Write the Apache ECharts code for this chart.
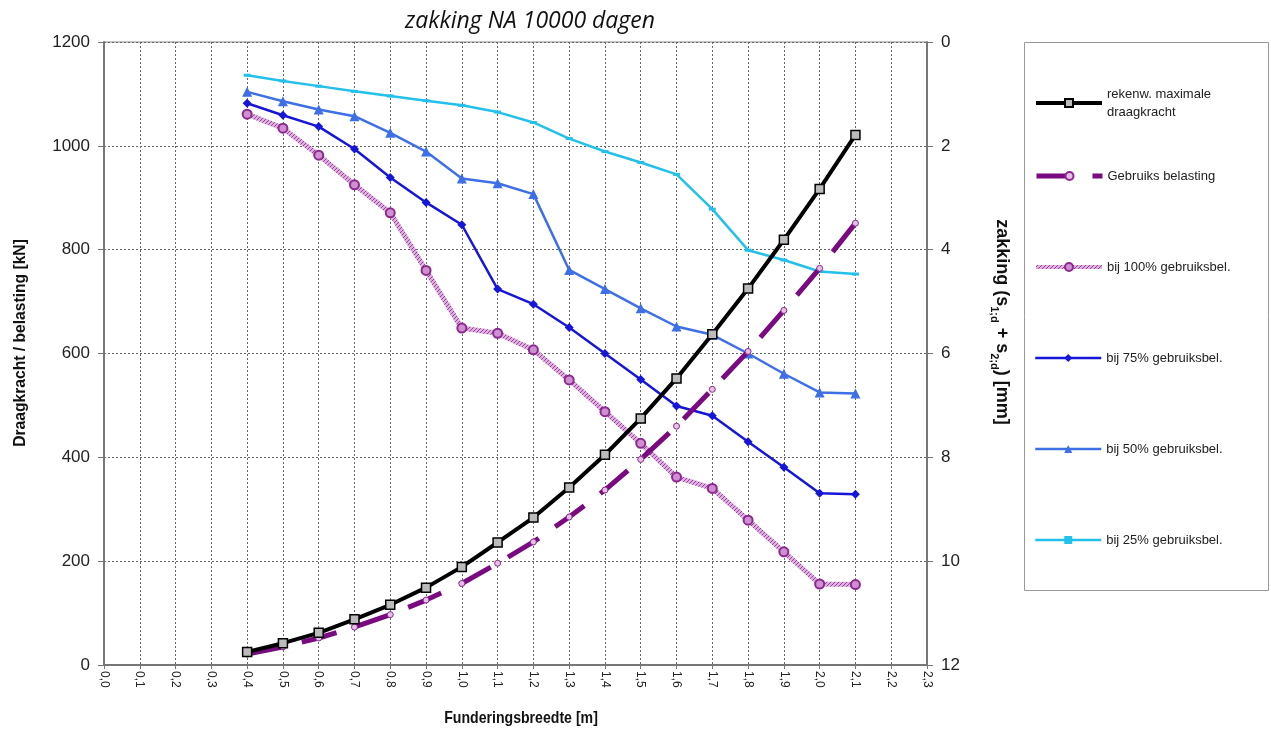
<!DOCTYPE html>
<html>
<head>
<meta charset="utf-8">
<script src="https://cdn.jsdelivr.net/npm/echarts@6/dist/echarts.min.js"></script>
<style>
  html, body { margin: 0; padding: 0; background: #fff; }
  #chart { width: 1271px; height: 731px; }
</style>
</head>
<body>
<div id="chart"></div>
<script>
// Funderingsbreedte [m]
const widths = [0.4, 0.5, 0.6, 0.7, 0.8, 0.9, 1.0, 1.1, 1.2, 1.3, 1.4, 1.5, 1.6, 1.7, 1.8, 1.9, 2.0, 2.1];
// Draagkracht / belasting [kN]
const draagkracht = [25, 42, 62, 88, 116, 149, 189, 236, 284, 342, 405, 475, 552, 637, 725, 819, 917, 1021];
const belasting = [21, 35, 52, 73, 97, 125, 157, 196, 237, 285, 337, 396, 460, 531, 604, 683, 764, 851];
// Zakking [mm]
const zak100 = [1.39, 1.66, 2.18, 2.75, 3.29, 4.40, 5.51, 5.61, 5.93, 6.51, 7.12, 7.73, 8.38, 8.60, 9.21, 9.82, 10.44, 10.45];
const zak75 = [1.18, 1.41, 1.63, 2.06, 2.61, 3.09, 3.52, 4.76, 5.05, 5.50, 6.00, 6.50, 7.01, 7.20, 7.70, 8.19, 8.69, 8.71];
const zak50 = [0.96, 1.14, 1.30, 1.43, 1.75, 2.11, 2.63, 2.72, 2.93, 4.39, 4.76, 5.13, 5.48, 5.64, 6.00, 6.39, 6.75, 6.77];
const zak25 = [0.64, 0.75, 0.85, 0.95, 1.04, 1.13, 1.22, 1.35, 1.55, 1.86, 2.11, 2.32, 2.55, 3.22, 4.01, 4.20, 4.42, 4.47];

const seriesNames = [
  'rekenw. maximale\ndraagkracht',
  'Gebruiks belasting',
  'bij 100% gebruiksbel.',
  'bij 75% gebruiksbel.',
  'bij 50% gebruiksbel.',
  'bij 25% gebruiksbel.'
];

const pairs = arr => widths.map((w, i) => [w, arr[i]]);

// hatched pink stroke for the 100% curve
function hatchPattern() {
  const c = document.createElement('canvas');
  c.width = 4; c.height = 4;
  const g = c.getContext('2d');
  g.fillStyle = '#deaede';
  g.fillRect(0, 0, 4, 4);
  g.fillStyle = '#94449a';
  g.fillRect(0, 0, 1, 1);
  g.fillRect(2, 2, 1, 1);
  g.fillRect(1, 3, 1, 1);
  g.fillRect(3, 1, 1, 1);
  return { image: c, repeat: 'repeat' };
}

const FONT = '"Liberation Sans", Arial, sans-serif';
const GRID_LINE = { show: true, lineStyle: { color: '#666', width: 1, type: [2, 2] } };

// legend rows, one per series, stacked in the framed box
const legendTops = [76, 167, 258, 349, 440, 531];
const legendLineWidths = [4, 5, 4, 2.5, 2.5, 2.5];
const legends = seriesNames.map((n, i) => ({
  data: [n],
  left: 1034,
  top: legendTops[i],
  orient: 'vertical',
  itemWidth: 66,
  itemHeight: 10,
  itemGap: 0,
  padding: 0,
  selectedMode: false,
  lineStyle: { width: legendLineWidths[i] },
  textStyle: {
    fontFamily: FONT,
    fontSize: 13,
    color: '#222',
    lineHeight: 18,
    padding: i === 0 ? [18, 0, 0, 0] : 0
  }
}));

const AXIS_NAME = { fontFamily: FONT, fontWeight: 'bold', fill: '#111' };

const chart = echarts.init(document.getElementById('chart'));
chart.setOption({
  animation: false,
  backgroundColor: '#fff',
  title: {
    text: 'zakking NA 10000 dagen',
    left: 400,
    top: 5,
    textStyle: { fontFamily: '"Open Sans", sans-serif', fontStyle: 'italic', fontWeight: 'normal', fontSize: 23, color: '#111' }
  },
  legend: legends,
  grid: { left: 104, right: 344, top: 42, bottom: 66, show: true, borderColor: '#888', borderWidth: 1 },
  graphic: [
    { type: 'rect', shape: { x: 1024.5, y: 42.5, width: 244, height: 548 }, style: { fill: 'none', stroke: '#999', lineWidth: 1 }, z: 0 },
    {
      type: 'text', x: 521, y: 718, scaleX: 0.83,
      style: Object.assign({ text: 'Funderingsbreedte [m]', fontSize: 17, align: 'center', verticalAlign: 'middle' }, AXIS_NAME)
    },
    {
      type: 'text', x: 20, y: 343, rotation: Math.PI / 2, scaleX: 0.92,
      style: Object.assign({ text: 'Draagkracht / belasting [kN]', fontSize: 17, align: 'center', verticalAlign: 'middle' }, AXIS_NAME)
    },
    {
      type: 'text', x: 1004, y: 322, rotation: -Math.PI / 2, scaleX: 1.0,
      style: {
        text: '{t|zakking (s}{s|1;d}{t| + s}{s|2;d}{t|) [mm]}',
        align: 'center', verticalAlign: 'middle',
        rich: {
          t: { fontFamily: FONT, fontWeight: 'bold', fontSize: 18, fill: '#111', lineHeight: 22, verticalAlign: 'bottom' },
          s: { fontFamily: FONT, fontWeight: 'bold', fontSize: 11, fill: '#111', lineHeight: 22, verticalAlign: 'bottom', padding: [0, 0, -4, 0] }
        }
      }
    }
  ],
  xAxis: {
    type: 'value', min: 0, max: 2.3, interval: 0.1,
    axisLine: { show: true, lineStyle: { color: '#777', width: 2 } },
    axisTick: { show: true, length: 4, lineStyle: { color: '#777' } },
    axisLabel: {
      rotate: -90, fontFamily: FONT, fontSize: 12, color: '#222', margin: 6,
      formatter: v => v.toFixed(1).replace('.', ',')
    },
    splitLine: GRID_LINE
  },
  yAxis: [
    {
      type: 'value', min: 0, max: 1200, interval: 200, position: 'left',
      axisLine: { show: true, lineStyle: { color: '#777', width: 2 } },
      axisTick: { show: true, length: 6, lineStyle: { color: '#777' } },
      axisLabel: { fontFamily: FONT, fontSize: 17, color: '#222', margin: 14, formatter: v => String(v) },
      splitLine: GRID_LINE
    },
    {
      type: 'value', min: 0, max: 12, interval: 2, position: 'right', inverse: true,
      axisLine: { show: true, lineStyle: { color: '#777', width: 2 } },
      axisTick: { show: true, length: 6, lineStyle: { color: '#777' } },
      axisLabel: { fontFamily: FONT, fontSize: 17, color: '#222', margin: 14, formatter: v => String(v) },
      splitLine: { show: false }
    }
  ],
  series: [
    {
      name: seriesNames[0], type: 'line', yAxisIndex: 0, data: pairs(draagkracht),
      symbol: 'rect', symbolSize: 9, z: 5,
      lineStyle: { color: '#000', width: 4 },
      itemStyle: { color: '#bbb', borderColor: '#000', borderWidth: 1.5 }
    },
    {
      name: seriesNames[1], type: 'line', yAxisIndex: 0, data: pairs(belasting),
      symbol: 'circle', symbolSize: 6, z: 4,
      lineStyle: { color: '#7a0a80', width: 5, type: [36, 20] },
      itemStyle: { color: '#e6bfe6', borderColor: '#8a2a8e', borderWidth: 1 }
    },
    {
      name: seriesNames[2], type: 'line', yAxisIndex: 1, data: pairs(zak100),
      symbol: 'circle', symbolSize: 9, z: 3,
      lineStyle: { color: hatchPattern(), width: 5 },
      itemStyle: { color: '#cf8fd2', borderColor: '#8a2a8e', borderWidth: 2 }
    },
    {
      name: seriesNames[3], type: 'line', yAxisIndex: 1, data: pairs(zak75),
      symbol: 'diamond', symbolSize: 9, z: 3,
      lineStyle: { color: '#1616d8', width: 2.5 },
      itemStyle: { color: '#1616d8' }
    },
    {
      name: seriesNames[4], type: 'line', yAxisIndex: 1, data: pairs(zak50),
      symbol: 'triangle', symbolSize: 10, z: 3,
      lineStyle: { color: '#3f6fe6', width: 2.5 },
      itemStyle: { color: '#3f6fe6' }
    },
    {
      name: seriesNames[5], type: 'line', yAxisIndex: 1, data: pairs(zak25),
      symbol: 'rect', symbolSize: [7, 3], z: 3,
      lineStyle: { color: '#22c0ea', width: 2.5 },
      itemStyle: { color: '#22c0ea' }
    }
  ]
});
</script>
</body>
</html>
